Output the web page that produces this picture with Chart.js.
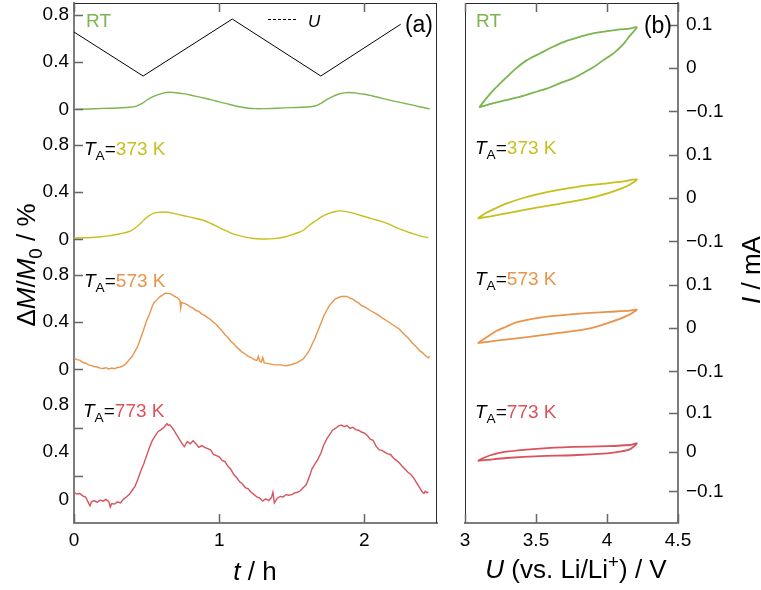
<!DOCTYPE html>
<html>
<head>
<meta charset="utf-8">
<script src="https://cdn.jsdelivr.net/npm/chart.js@4.4.1/dist/chart.umd.min.js"></script>
<style>
  html, body { margin: 0; padding: 0; background: #fff; }
  #wrap { position: relative; width: 761px; height: 590px; }
  #massChart { position: absolute; left: 0; top: 0; }
  #cvChart { position: absolute; left: 450px; top: 0; }
</style>
</head>
<body>
<div id="wrap">
  <canvas id="massChart" width="450" height="590"></canvas>
  <canvas id="cvChart" width="311" height="590"></canvas>
</div>
<script>
// (a) mass change vs time, one trace per annealing temperature
const tRT = [0.00, 0.10, 0.20, 0.30, 0.38, 0.43, 0.47, 0.50, 0.54, 0.58, 0.62, 0.66, 0.70, 0.75, 0.80, 0.85, 0.90, 0.95, 1.00, 1.05, 1.10, 1.15, 1.20, 1.25, 1.30, 1.40, 1.50, 1.60, 1.66, 1.70, 1.74, 1.78, 1.82, 1.86, 1.90, 1.94, 2.00, 2.05, 2.10, 2.16, 2.22, 2.28, 2.32, 2.38, 2.45];
const mRT = [0.000, 0.003, 0.008, 0.012, 0.018, 0.028, 0.050, 0.077, 0.105, 0.125, 0.140, 0.145, 0.141, 0.133, 0.122, 0.108, 0.094, 0.080, 0.063, 0.048, 0.033, 0.020, 0.010, 0.006, 0.006, 0.010, 0.015, 0.020, 0.028, 0.050, 0.082, 0.108, 0.128, 0.140, 0.143, 0.138, 0.128, 0.115, 0.100, 0.082, 0.065, 0.050, 0.040, 0.022, 0.004];

const t373 = [0.00, 0.08, 0.16, 0.24, 0.32, 0.37, 0.40, 0.44, 0.48, 0.51, 0.55, 0.60, 0.64, 0.68, 0.73, 0.80, 0.89, 0.95, 1.00, 1.05, 1.10, 1.16, 1.22, 1.30, 1.38, 1.45, 1.50, 1.55, 1.58, 1.62, 1.67, 1.71, 1.75, 1.80, 1.83, 1.88, 1.93, 1.97, 2.05, 2.12, 2.16, 2.22, 2.28, 2.32, 2.38, 2.44];
const m373 = [0.011, 0.014, 0.020, 0.030, 0.048, 0.062, 0.077, 0.115, 0.162, 0.195, 0.222, 0.230, 0.230, 0.222, 0.207, 0.188, 0.162, 0.130, 0.100, 0.072, 0.045, 0.025, 0.010, 0.003, 0.006, 0.020, 0.038, 0.060, 0.077, 0.120, 0.162, 0.195, 0.218, 0.236, 0.241, 0.235, 0.220, 0.204, 0.175, 0.150, 0.134, 0.100, 0.072, 0.054, 0.030, 0.014];

const t573 = [0.00, 0.02, 0.04, 0.06, 0.08, 0.10, 0.12, 0.14, 0.16, 0.18, 0.20, 0.22, 0.24, 0.26, 0.28, 0.30, 0.32, 0.34, 0.36, 0.38, 0.40, 0.42, 0.44, 0.46, 0.48, 0.50, 0.52, 0.53, 0.54, 0.55, 0.57, 0.59, 0.61, 0.63, 0.65, 0.67, 0.69, 0.71, 0.72, 0.73, 0.735, 0.74, 0.76, 0.78, 0.80, 0.82, 0.84, 0.86, 0.88, 0.90, 0.92, 0.94, 0.96, 0.98, 1.00, 1.02, 1.04, 1.06, 1.08, 1.10, 1.12, 1.14, 1.16, 1.18, 1.20, 1.22, 1.24, 1.26, 1.27, 1.28, 1.29, 1.30, 1.31, 1.34, 1.38, 1.42, 1.46, 1.50, 1.53, 1.56, 1.58, 1.60, 1.62, 1.64, 1.66, 1.68, 1.70, 1.72, 1.74, 1.76, 1.78, 1.80, 1.82, 1.84, 1.86, 1.88, 1.90, 1.92, 1.94, 1.96, 1.98, 2.00, 2.04, 2.08, 2.12, 2.16, 2.20, 2.24, 2.27, 2.30, 2.33, 2.36, 2.38, 2.40, 2.42, 2.43, 2.44, 2.45];
const m573 = [0.095, 0.082, 0.078, 0.060, 0.052, 0.038, 0.032, 0.024, 0.020, 0.010, 0.008, 0.014, 0.004, 0.011, 0.006, 0.016, 0.020, 0.032, 0.050, 0.082, 0.108, 0.152, 0.198, 0.265, 0.338, 0.412, 0.468, 0.502, 0.538, 0.562, 0.588, 0.614, 0.628, 0.644, 0.643, 0.636, 0.620, 0.607, 0.596, 0.582, 0.520, 0.566, 0.558, 0.547, 0.528, 0.518, 0.498, 0.490, 0.468, 0.457, 0.438, 0.422, 0.398, 0.380, 0.350, 0.327, 0.293, 0.270, 0.238, 0.217, 0.188, 0.167, 0.143, 0.130, 0.110, 0.100, 0.083, 0.076, 0.110, 0.066, 0.062, 0.100, 0.054, 0.049, 0.038, 0.038, 0.030, 0.041, 0.053, 0.074, 0.090, 0.122, 0.158, 0.212, 0.263, 0.327, 0.388, 0.452, 0.498, 0.542, 0.570, 0.597, 0.606, 0.617, 0.616, 0.617, 0.603, 0.594, 0.576, 0.562, 0.540, 0.530, 0.498, 0.472, 0.438, 0.407, 0.373, 0.342, 0.302, 0.267, 0.223, 0.187, 0.158, 0.142, 0.116, 0.107, 0.098, 0.110];

const t773 = [0.00, 0.02, 0.04, 0.06, 0.08, 0.10, 0.11, 0.12, 0.14, 0.16, 0.18, 0.20, 0.22, 0.24, 0.25, 0.26, 0.28, 0.30, 0.32, 0.34, 0.36, 0.38, 0.40, 0.42, 0.44, 0.46, 0.48, 0.50, 0.52, 0.54, 0.56, 0.58, 0.60, 0.62, 0.64, 0.65, 0.66, 0.68, 0.70, 0.72, 0.74, 0.76, 0.78, 0.80, 0.82, 0.84, 0.86, 0.88, 0.90, 0.92, 0.94, 0.96, 0.98, 1.00, 1.02, 1.04, 1.06, 1.08, 1.10, 1.12, 1.14, 1.16, 1.18, 1.20, 1.22, 1.24, 1.26, 1.28, 1.30, 1.32, 1.34, 1.36, 1.37, 1.38, 1.40, 1.42, 1.44, 1.46, 1.48, 1.50, 1.52, 1.54, 1.56, 1.58, 1.60, 1.62, 1.64, 1.66, 1.68, 1.70, 1.72, 1.74, 1.76, 1.78, 1.80, 1.82, 1.84, 1.86, 1.88, 1.90, 1.92, 1.94, 1.96, 1.98, 2.00, 2.02, 2.04, 2.06, 2.08, 2.10, 2.12, 2.14, 2.16, 2.18, 2.20, 2.22, 2.24, 2.26, 2.28, 2.30, 2.32, 2.34, 2.36, 2.38, 2.40, 2.41, 2.42, 2.43, 2.44];
const m773 = [0.060, 0.045, 0.050, 0.030, 0.020, -0.030, -0.055, -0.020, -0.010, -0.025, -0.005, -0.015, 0.000, -0.020, -0.065, -0.035, -0.040, -0.020, -0.030, 0.000, 0.020, 0.040, 0.075, 0.110, 0.170, 0.240, 0.300, 0.370, 0.440, 0.500, 0.540, 0.575, 0.590, 0.610, 0.640, 0.625, 0.630, 0.600, 0.560, 0.520, 0.480, 0.445, 0.490, 0.470, 0.495, 0.470, 0.440, 0.455, 0.440, 0.430, 0.420, 0.380, 0.370, 0.360, 0.330, 0.320, 0.280, 0.255, 0.210, 0.185, 0.150, 0.130, 0.100, 0.090, 0.060, 0.040, 0.020, 0.010, -0.015, 0.005, -0.010, 0.015, 0.060, -0.030, 0.010, 0.025, 0.020, 0.040, 0.035, 0.040, 0.055, 0.060, 0.075, 0.100, 0.125, 0.190, 0.260, 0.300, 0.340, 0.390, 0.460, 0.510, 0.545, 0.585, 0.600, 0.620, 0.630, 0.615, 0.625, 0.600, 0.610, 0.590, 0.585, 0.570, 0.560, 0.540, 0.510, 0.500, 0.450, 0.420, 0.415, 0.400, 0.385, 0.380, 0.350, 0.330, 0.310, 0.280, 0.255, 0.230, 0.210, 0.180, 0.140, 0.100, 0.060, 0.050, 0.070, 0.055, 0.065];

// electrode potential during the sweeps (V)
const tU = [0.00, 0.476, 1.09, 1.70, 2.25];
const uU = [3.95, 3.10, 4.20, 3.10, 4.10];

// (b) cyclic voltammograms: potential (V) and current (mA), anodic then cathodic branch
const cvU_RT = [3.10, 3.15, 3.20, 3.25, 3.29, 3.36, 3.43, 3.53, 3.62, 3.72, 3.81, 3.90, 4.00, 4.09, 4.16, 4.21, 4.16, 4.12, 4.05, 3.97, 3.90, 3.83, 3.76, 3.67, 3.58, 3.48, 3.39, 3.29, 3.20, 3.10];
const cvI_RT = [-0.091, -0.070, -0.051, -0.035, -0.022, -0.001, 0.017, 0.034, 0.049, 0.063, 0.072, 0.080, 0.085, 0.089, 0.091, 0.094, 0.074, 0.057, 0.035, 0.017, 0.001, -0.012, -0.024, -0.035, -0.047, -0.057, -0.066, -0.074, -0.081, -0.091];
const cvU_373 = [3.09, 3.15, 3.22, 3.29, 3.41, 3.53, 3.65, 3.81, 3.95, 4.09, 4.21, 4.14, 4.05, 3.93, 3.76, 3.60, 3.41, 3.25, 3.15, 3.09];
const cvI_373 = [-0.047, -0.034, -0.023, -0.013, 0.000, 0.010, 0.018, 0.027, 0.032, 0.037, 0.043, 0.027, 0.016, 0.004, -0.008, -0.017, -0.028, -0.038, -0.044, -0.047];
const cvU_573 = [3.09, 3.15, 3.22, 3.29, 3.36, 3.53, 3.76, 4.00, 4.16, 4.21, 4.14, 4.02, 3.88, 3.65, 3.41, 3.22, 3.09];
const cvI_573 = [-0.035, -0.022, -0.007, 0.003, 0.013, 0.024, 0.032, 0.037, 0.040, 0.042, 0.028, 0.013, -0.001, -0.012, -0.022, -0.029, -0.035];
const cvU_773 = [3.09, 3.13, 3.18, 3.29, 3.53, 3.76, 4.00, 4.16, 4.21, 4.16, 4.09, 4.00, 3.76, 3.53, 3.29, 3.15, 3.09];
const cvI_773 = [-0.022, -0.015, -0.008, 0.001, 0.009, 0.013, 0.015, 0.018, 0.022, 0.007, 0.001, -0.003, -0.008, -0.010, -0.015, -0.020, -0.022];

const massTicks = [0, 0.4, 0.8];
const currentTicks = [-0.1, 0, 0.1];
const timeTicks = [0, 1, 2];
const voltTicks = [3, 3.5, 4, 4.5];

const FONT = "'Liberation Sans', Arial, Helvetica, sans-serif";
const GREEN = '#7ab54d', YELLOW = '#c8bf1d', ORANGE = '#e8954b', RED = '#d8535b';
const AXIS_GRAY = '#7d7d7d';
const TICK_SIZE = 19;

Chart.defaults.font.family = FONT;
Chart.defaults.color = '#000';

const pts = (xs, ys) => xs.map((x, i) => ({ x, y: ys[i] }));

// rich text: italic letters, sub- and superscripts, coloured runs
function runFont(r, size) {
  const s = (r.sub || r.sup) ? size * 0.72 : size;
  return (r.italic ? 'italic ' : '') + s + 'px ' + FONT;
}
function drawRich(ctx, runs, x, y, size, align) {
  let w = 0;
  for (const r of runs) { ctx.font = runFont(r, size); w += ctx.measureText(r.s).width; }
  let cx = align === 'center' ? x - w / 2 : align === 'right' ? x - w : x;
  ctx.textAlign = 'left';
  ctx.textBaseline = 'alphabetic';
  for (const r of runs) {
    ctx.font = runFont(r, size);
    ctx.fillStyle = r.color || '#000';
    const dy = r.sub ? size * 0.27 : r.sup ? -size * 0.38 : 0;
    ctx.fillText(r.s, cx, y + dy);
    cx += ctx.measureText(r.s).width;
  }
}
const tA = (temp, color) => [{ s: 'T', italic: true }, { s: 'A', sub: true }, { s: '=' }, { s: temp, color }];

// box frame, inward tick marks and the text annotations
const decor = {
  id: 'decor',
  afterDraw(chart, args, opts) {
    const { ctx, chartArea: a } = chart;
    ctx.save();
    ctx.strokeStyle = '#2a2a2a';
    ctx.lineWidth = 1;
    ctx.beginPath();
    ctx.moveTo(a.left, a.top + 0.5);
    ctx.lineTo(a.right, a.top + 0.5);
    const fx = opts.frameSide === 'left' ? a.left + 0.5 : a.right - 0.5;
    ctx.moveTo(fx, a.top);
    ctx.lineTo(fx, a.bottom);
    ctx.stroke();

    ctx.strokeStyle = '#666';
    ctx.lineWidth = 1.5;
    ctx.beginPath();
    for (const id of Object.keys(chart.scales)) {
      const s = chart.scales[id];
      if (!s.options.display) continue;
      const values = (opts.marks && opts.marks[id]) || s.ticks.map(t => t.value);
      for (const v of values) {
        const p = Math.round(s.getPixelForValue(v)) + 0.5;
        if (s.axis === 'x') {
          ctx.moveTo(p, a.bottom); ctx.lineTo(p, a.bottom - 9);
          ctx.moveTo(p, a.top); ctx.lineTo(p, a.top + 9);
        } else if (s.position === 'left') {
          ctx.moveTo(s.right, p); ctx.lineTo(s.right + 9, p);
        } else {
          ctx.moveTo(s.left, p); ctx.lineTo(s.left - 9, p);
        }
      }
    }
    ctx.stroke();

    if (opts.legendLine) {
      const l = opts.legendLine;
      ctx.strokeStyle = '#000';
      ctx.lineWidth = 1;
      ctx.setLineDash([3, 2]);
      ctx.beginPath();
      ctx.moveTo(l.x0, l.y + 0.5);
      ctx.lineTo(l.x1, l.y + 0.5);
      ctx.stroke();
      ctx.setLineDash([]);
    }

    for (const lab of opts.labels) {
      if (lab.rotate) {
        ctx.save();
        ctx.translate(lab.x, lab.y);
        ctx.rotate(-Math.PI / 2);
        drawRich(ctx, lab.runs, 0, 0, lab.size, lab.align);
        ctx.restore();
      } else {
        drawRich(ctx, lab.runs, lab.x, lab.y, lab.size, lab.align);
      }
    }
    ctx.restore();
  }
};

function stackedAxis(stack, position, min, max, values, fmt, width, pad) {
  return {
    type: 'linear', position, stack, stackWeight: 1, min, max,
    grid: { drawOnChartArea: false, drawTicks: false },
    border: { color: AXIS_GRAY, width: 2 },
    ticks: { font: { size: TICK_SIZE }, color: '#000', padding: pad, autoSkip: false, callback: fmt },
    afterBuildTicks: s => { s.ticks = values.map(value => ({ value })); },
    afterFit: s => { s.width = width; s.paddingTop = 0; s.paddingBottom = 0; }
  };
}

function bottomAxis(min, max, values, fmt) {
  return {
    type: 'linear', position: 'bottom', min, max,
    grid: { drawOnChartArea: false, drawTicks: false },
    border: { color: AXIS_GRAY, width: 2 },
    ticks: { font: { size: TICK_SIZE }, color: '#000', padding: 6, maxRotation: 0, autoSkip: false, callback: fmt },
    afterBuildTicks: s => { s.ticks = values.map(value => ({ value })); },
    afterFit: s => { s.height = 67; s.paddingLeft = 0; s.paddingRight = 0; }
  };
}

const massFmt = v => (v === 0 ? '0' : v.toFixed(1));
const currFmt = v => (v === 0 ? '0' : (v < 0 ? '\u2212' : '') + Math.abs(v).toFixed(1));

const trace = (data, axis, color, tension) => ({
  data, yAxisID: axis, borderColor: color, borderWidth: 1.4,
  pointRadius: 0, tension: tension || 0, fill: false
});

new Chart(document.getElementById('massChart'), {
  type: 'line',
  data: {
    datasets: [
      { ...trace(pts(tU, uU), 'u', '#000'), borderWidth: 1 },
      trace(pts(tRT, mRT), 'mRT', GREEN, 0.3),
      trace(pts(t373, m373), 'm373', YELLOW, 0.3),
      trace(pts(t573, m573), 'm573', ORANGE),
      trace(pts(t773, m773), 'm773', RED)
    ]
  },
  options: {
    responsive: false,
    animation: false,
    layout: { padding: { left: 0, right: 13, top: 3, bottom: 0 } },
    scales: {
      x: bottomAxis(0, 2.5, timeTicks, v => String(v)),
      // left-hand stacked axes are laid out from the last one upwards
      m773: stackedAxis('mass', 'left', -0.2, 0.9, massTicks, massFmt, 74, 5),
      m573: stackedAxis('mass', 'left', -0.2, 0.9, massTicks, massFmt, 74, 5),
      m373: stackedAxis('mass', 'left', -0.2, 0.9, massTicks, massFmt, 74, 5),
      mRT: stackedAxis('mass', 'left', -0.2, 0.9, massTicks, massFmt, 74, 5),
      u: { type: 'linear', position: 'right', display: false, min: -5.53, max: 4.51 }
    },
    plugins: {
      legend: { display: false },
      tooltip: { enabled: false },
      decor: {
        frameSide: 'right',
        marks: { m773: [0.6, 0.2] },
        legendLine: { x0: 268, x1: 297, y: 19 },
        labels: [
          { runs: [{ s: 'RT', color: GREEN }], x: 86, y: 27, size: 19 },
          { runs: tA('373 K', YELLOW), x: 84, y: 155, size: 19 },
          { runs: tA('573 K', ORANGE), x: 84, y: 287, size: 19 },
          { runs: tA('773 K', RED), x: 83, y: 417, size: 19 },
          { runs: [{ s: '(a)' }], x: 433, y: 32, size: 23, align: 'right' },
          { runs: [{ s: 'U', italic: true }], x: 308, y: 27, size: 17 },
          { runs: [{ s: 't', italic: true }, { s: ' / h' }], x: 255, y: 580, size: 26, align: 'center' },
          { runs: [{ s: '\u0394' }, { s: 'M', italic: true }, { s: '/' }, { s: 'M', italic: true }, { s: '0', sub: true }, { s: ' / %' }],
            x: 35, y: 265, size: 26, align: 'center', rotate: true }
        ]
      }
    }
  },
  plugins: [decor]
});

const loop = (data, axis, color) => ({
  data, yAxisID: axis, borderColor: color, borderWidth: 1.8,
  pointRadius: 0, tension: 0.25, fill: false
});

new Chart(document.getElementById('cvChart'), {
  type: 'line',
  data: {
    datasets: [
      loop(pts(cvU_RT, cvI_RT), 'iRT', GREEN),
      loop(pts(cvU_373, cvI_373), 'i373', YELLOW),
      loop(pts(cvU_573, cvI_573), 'i573', ORANGE),
      loop(pts(cvU_773, cvI_773), 'i773', RED)
    ]
  },
  options: {
    responsive: false,
    animation: false,
    layout: { padding: { left: 15, right: 0, top: 3, bottom: 0 } },
    scales: {
      x: bottomAxis(3, 4.5, voltTicks, v => String(v)),
      // right-hand stacked axes are laid out from the first one downwards
      iRT: stackedAxis('cur', 'right', -0.15, 0.15, currentTicks, currFmt, 83, 8),
      i373: stackedAxis('cur', 'right', -0.15, 0.15, currentTicks, currFmt, 83, 8),
      i573: stackedAxis('cur', 'right', -0.15, 0.15, currentTicks, currFmt, 83, 8),
      i773: stackedAxis('cur', 'right', -0.18, 0.15, currentTicks, currFmt, 83, 8)
    },
    plugins: {
      legend: { display: false },
      tooltip: { enabled: false },
      decor: {
        frameSide: 'left',
        labels: [
          { runs: [{ s: 'RT', color: GREEN }], x: 26, y: 27, size: 19 },
          { runs: tA('373 K', YELLOW), x: 25, y: 154, size: 19 },
          { runs: tA('573 K', ORANGE), x: 25, y: 285, size: 19 },
          { runs: tA('773 K', RED), x: 25, y: 418, size: 19 },
          { runs: [{ s: '(b)' }], x: 222, y: 33, size: 23, align: 'right' },
          { runs: [{ s: 'U', italic: true }, { s: ' (vs. Li/Li' }, { s: '+', sup: true }, { s: ') / V' }],
            x: 126, y: 578, size: 26, align: 'center' },
          { runs: [{ s: 'I', italic: true }, { s: ' / mA' }], x: 310, y: 270, size: 26, align: 'center', rotate: true }
        ]
      }
    }
  },
  plugins: [decor]
});
</script>
</body>
</html>
